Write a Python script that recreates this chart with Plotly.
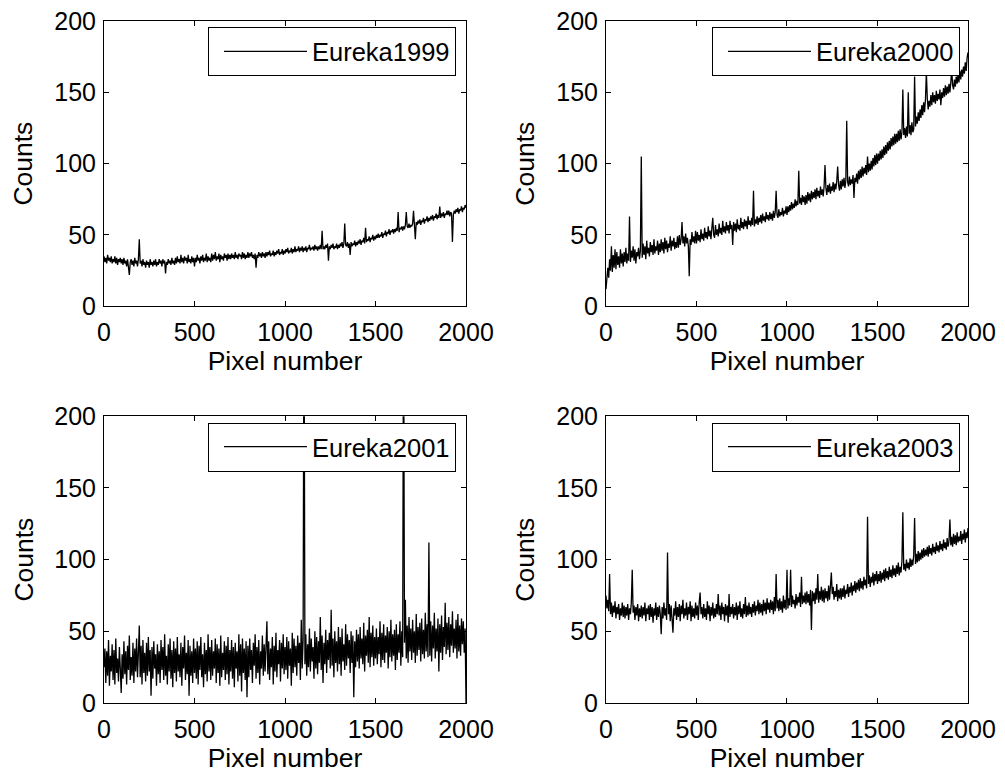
import plotly.graph_objects as go

# Pixel numbers (detector grid, step 5)
pixels = list(range(0, 2001, 5))

series_names = ["Eureka1999", "Eureka2000", "Eureka2001", "Eureka2003"]

# each row = 100 pixel numbers (20 samples)
eureka1999 = [
    35, 31, 34, 30, 36, 32, 34, 31, 35, 30, 33, 31, 35, 30, 34, 29, 33, 31, 34, 30,
    33, 29, 34, 30, 32, 28, 33, 29, 22, 31, 33, 29, 32, 28, 34, 30, 32, 28, 33, 47,
    30, 32, 28, 33, 29, 31, 27, 32, 29, 31, 27, 33, 29, 31, 28, 32, 29, 33, 28, 31,
    29, 33, 30, 32, 28, 33, 30, 32, 23, 31, 29, 33, 30, 32, 29, 34, 30, 32, 29, 34,
    30, 35, 31, 33, 30, 36, 31, 34, 30, 35, 32, 34, 30, 36, 31, 33, 30, 35, 31, 34,
    28, 34, 31, 36, 32, 34, 30, 35, 32, 36, 31, 34, 32, 37, 31, 35, 32, 34, 31, 37,
    32, 36, 33, 38, 32, 35, 33, 37, 31, 36, 33, 35, 32, 37, 34, 36, 32, 37, 33, 36,
    33, 37, 34, 36, 33, 38, 34, 36, 33, 37, 35, 36, 33, 38, 34, 37, 33, 36, 34, 38,
    34, 37, 35, 38, 34, 36, 33, 37, 27, 36, 34, 38, 35, 37, 34, 38, 35, 37, 34, 38,
    35, 38, 36, 39, 35, 37, 36, 39, 35, 38, 36, 39, 37, 40, 36, 38, 37, 40, 36, 39,
    37, 40, 38, 41, 37, 39, 38, 41, 37, 40, 38, 42, 38, 40, 39, 42, 38, 41, 39, 42,
    38, 41, 39, 42, 38, 41, 40, 43, 39, 41, 40, 42, 39, 43, 40, 42, 39, 42, 40, 43,
    40, 53, 40, 42, 40, 43, 41, 44, 32, 42, 40, 43, 41, 44, 40, 42, 41, 44, 40, 43,
    41, 44, 42, 45, 41, 44, 58, 43, 42, 45, 41, 44, 36, 45, 42, 44, 43, 46, 42, 45,
    43, 46, 44, 47, 43, 46, 45, 48, 44, 55, 45, 47, 46, 49, 45, 48, 47, 50, 46, 49,
    47, 50, 48, 51, 48, 50, 49, 52, 48, 51, 50, 53, 49, 52, 51, 54, 50, 53, 52, 54,
    51, 54, 52, 55, 53, 66, 52, 55, 54, 56, 53, 56, 54, 57, 66, 56, 55, 58, 55, 57,
    56, 58, 67, 57, 47, 59, 57, 60, 58, 61, 57, 60, 59, 62, 58, 61, 60, 63, 59, 62,
    60, 63, 61, 64, 60, 63, 62, 65, 61, 64, 62, 70, 62, 65, 63, 66, 62, 65, 64, 67,
    64, 67, 63, 66, 65, 45, 64, 67, 65, 68, 66, 69, 65, 68, 67, 70, 66, 69, 68, 71,
    69,
]

eureka2000 = [
    12, 22, 27, 20, 33, 25, 42, 24, 36, 27, 40, 26, 38, 29, 35, 27, 40, 30, 37, 28,
    38, 31, 41, 30, 37, 32, 63, 31, 39, 34, 42, 32, 40, 30, 38, 35, 41, 33, 39, 105,
    34, 44, 36, 42, 33, 46, 37, 41, 35, 45, 38, 43, 36, 47, 37, 42, 39, 46, 36, 44,
    38, 47, 39, 45, 37, 48, 40, 46, 38, 44, 41, 49, 39, 46, 42, 48, 40, 45, 41, 49,
    41, 50, 43, 47, 59, 44, 49, 42, 51, 44, 48, 42, 21, 47, 43, 52, 45, 49, 44, 53,
    44, 52, 46, 50, 45, 54, 47, 51, 46, 55, 48, 52, 47, 56, 49, 53, 47, 55, 62, 50,
    48, 57, 50, 54, 49, 58, 51, 55, 50, 60, 52, 56, 51, 59, 53, 57, 51, 60, 54, 57,
    43, 59, 53, 58, 52, 61, 54, 57, 53, 62, 55, 59, 54, 61, 56, 60, 54, 63, 57, 60,
    56, 62, 57, 81, 56, 61, 58, 63, 57, 62, 59, 64, 58, 65, 60, 63, 59, 66, 61, 64,
    60, 66, 61, 65, 60, 67, 62, 66, 81, 64, 62, 68, 63, 66, 64, 69, 63, 67, 65, 70,
    64, 70, 66, 71, 67, 73, 68, 72, 69, 75, 70, 74, 71, 95, 72, 76, 71, 78, 73, 77,
    71, 78, 72, 80, 74, 79, 73, 81, 75, 80, 76, 82, 75, 83, 77, 81, 76, 84, 78, 82,
    77, 84, 99, 83, 78, 85, 80, 86, 79, 84, 81, 87, 80, 86, 82, 88, 98, 85, 81, 88,
    82, 89, 84, 90, 83, 88, 130, 87, 84, 91, 85, 89, 86, 92, 76, 90, 87, 93, 86, 95,
    89, 96, 90, 98, 91, 97, 93, 99, 92, 105, 94, 100, 95, 102, 96, 104, 98, 106, 99, 107,
    100, 107, 102, 109, 103, 110, 104, 112, 106, 113, 107, 115, 109, 116, 110, 118, 112, 119, 113, 121,
    114, 121, 115, 123, 116, 124, 117, 122, 152, 120, 125, 118, 126, 119, 150, 121, 127, 120, 129, 122,
    124, 161, 126, 133, 128, 136, 130, 138, 132, 141, 134, 143, 136, 145, 164, 146, 138, 144, 140, 148,
    141, 150, 143, 148, 142, 151, 144, 149, 145, 152, 141, 150, 146, 153, 147, 155, 148, 154, 149, 156,
    150, 157, 166, 155, 152, 159, 154, 161, 156, 163, 157, 165, 159, 166, 161, 168, 163, 171, 165, 174,
    178,
]

eureka2001 = [
    25, 38, 14, 36, 19, 44, 12, 33, 22, 41, 16, 37, 13, 45, 21, 31, 15, 39, 24, 7,
    34, 17, 43, 20, 36, 13, 40, 23, 47, 16, 32, 19, 42, 14, 38, 22, 45, 18, 35, 54,
    18, 40, 13, 44, 21, 35, 15, 42, 19, 46, 22, 37, 5, 39, 17, 43, 24, 34, 12, 41,
    20, 36, 14, 44, 23, 39, 16, 48, 19, 33, 13, 41, 22, 45, 17, 37, 11, 43, 21, 38,
    15, 46, 22, 34, 18, 42, 12, 39, 24, 47, 16, 35, 20, 44, 5, 40, 19, 36, 14, 45,
    21, 38, 17, 43, 13, 40, 23, 46, 18, 34, 11, 42, 20, 37, 15, 48, 22, 39, 16, 44,
    19, 36, 24, 45, 14, 41, 21, 38, 12, 47, 18, 35, 23, 43, 16, 40, 20, 46, 13, 37,
    22, 44, 17, 39, 11, 42, 24, 36, 15, 48, 19, 41, 8, 45, 21, 38, 16, 43, 4, 40,
    18, 45, 23, 37, 14, 42, 26, 48, 17, 39, 21, 44, 13, 36, 24, 47, 19, 41, 22, 50,
    57, 20, 43, 16, 38, 25, 46, 13, 40, 22, 49, 18, 37, 27, 44, 15, 42, 24, 48, 20,
    39, 23, 46, 17, 43, 26, 38, 12, 49, 21, 45, 25, 40, 19, 47, 28, 42, 16, 58, 24,
    44, 300, 27, 48, 19, 41, 25, 52, 22, 45, 29, 39, 17, 50, 24, 46, 20, 43, 28, 60,
    23, 47, 14, 42, 27, 51, 21, 44, 30, 49, 24, 65, 26, 45, 18, 50, 28, 43, 22, 53,
    27, 46, 19, 52, 29, 41, 23, 55, 26, 48, 31, 44, 21, 50, 28, 47, 4, 43, 25, 51,
    29, 48, 24, 53, 31, 45, 27, 56, 22, 47, 33, 51, 28, 60, 25, 49, 32, 54, 26, 46,
    31, 52, 27, 46, 34, 57, 25, 49, 30, 55, 28, 47, 35, 53, 24, 50, 32, 58, 29, 48,
    33, 51, 23, 55, 30, 48, 35, 57, 26, 50, 32, 300, 42, 72, 31, 54, 28, 60, 36, 52,
    30, 58, 35, 50, 28, 62, 33, 53, 37, 56, 29, 59, 34, 51, 31, 63, 36, 55, 32, 112,
    33, 57, 29, 54, 38, 63, 31, 52, 36, 59, 22, 55, 35, 61, 30, 53, 39, 70, 34, 56,
    37, 60, 32, 55, 40, 64, 35, 52, 38, 58, 31, 62, 36, 54, 33, 59, 41, 57, 35, 52,
    0,
]

eureka2003 = [
    75, 66, 72, 64, 90, 62, 70, 60, 68, 63, 71, 59, 67, 62, 69, 58, 66, 61, 70, 60,
    68, 59, 67, 61, 69, 58, 66, 62, 70, 93, 63, 68, 58, 67, 61, 69, 57, 66, 60, 68,
    59, 67, 61, 70, 57, 66, 62, 68, 58, 69, 60, 67, 56, 66, 61, 70, 58, 67, 60, 68,
    62, 48, 67, 59, 70, 61, 66, 58, 105, 62, 69, 57, 68, 60, 49, 66, 61, 71, 58, 67,
    60, 69, 57, 68, 62, 72, 59, 66, 61, 70, 58, 67, 62, 71, 57, 68, 60, 66, 59, 70,
    61, 68, 58, 70, 77, 62, 67, 59, 69, 60, 66, 58, 71, 62, 68, 57, 67, 61, 70, 59,
    66, 60, 69, 62, 76, 61, 68, 58, 70, 62, 67, 57, 69, 61, 68, 56, 76, 60, 67, 62,
    69, 59, 67, 61, 70, 58, 68, 62, 71, 60, 66, 59, 69, 62, 74, 60, 68, 61, 70, 62,
    67, 60, 69, 63, 71, 61, 68, 64, 72, 62, 70, 63, 69, 61, 72, 64, 70, 62, 73, 65,
    70, 63, 72, 65, 71, 62, 74, 64, 90, 66, 72, 64, 73, 65, 71, 63, 75, 66, 72, 65,
    93, 66, 73, 68, 93, 67, 75, 69, 72, 66, 76, 68, 74, 70, 77, 67, 88, 69, 75, 70,
    77, 69, 78, 70, 76, 68, 79, 51, 78, 71, 77, 69, 80, 72, 90, 70, 78, 72, 81, 71,
    79, 70, 80, 73, 78, 71, 82, 72, 79, 91, 76, 81, 72, 78, 74, 83, 71, 79, 73, 80,
    72, 80, 74, 82, 73, 79, 76, 83, 74, 81, 77, 84, 75, 82, 78, 85, 77, 84, 79, 86,
    78, 87, 80, 85, 79, 88, 82, 86, 80, 130, 83, 89, 81, 88, 84, 91, 82, 90, 85, 92,
    83, 90, 85, 92, 84, 91, 86, 93, 85, 94, 87, 92, 86, 95, 88, 93, 87, 96, 89, 94,
    88, 96, 90, 98, 89, 95, 91, 99, 133, 93, 97, 92, 100, 94, 98, 93, 101, 95, 100, 96,
    103, 129, 97, 104, 98, 106, 99, 105, 100, 107, 101, 108, 102, 107, 103, 109, 102, 110, 104, 108,
    103, 111, 105, 109, 104, 112, 106, 110, 105, 113, 107, 111, 106, 114, 108, 112, 107, 115, 109, 113,
    128, 110, 116, 109, 118, 111, 117, 110, 119, 112, 116, 113, 120, 111, 118, 114, 121, 112, 119, 115,
    122,
]

all_series = [eureka1999, eureka2000, eureka2001, eureka2003]
for s in all_series:
    assert len(s) == len(pixels), len(s)

x_ticks = [0, 500, 1000, 1500, 2000]
y_ticks = [0, 50, 100, 150, 200]
x_title = "Pixel number"
y_title = "Counts"

FONT = "Liberation Sans, Arial, Helvetica, sans-serif"

fig = go.Figure()

panels = [("x", "y", "legend"), ("x2", "y2", "legend2"),
          ("x3", "y3", "legend3"), ("x4", "y4", "legend4")]

for name, vals, (xa, ya, lg) in zip(series_names, all_series, panels):
    fig.add_trace(go.Scatter(
        x=pixels, y=vals, mode="lines", name=name,
        line=dict(color="black", width=1.3),
        xaxis=xa, yaxis=ya, legend=lg, showlegend=True,
    ))

x_domains = [[0.0, 0.419], [0.581, 1.0], [0.0, 0.419], [0.581, 1.0]]
y_domains = [[0.5817, 1.0], [0.5817, 1.0], [0.0, 0.4204], [0.0, 0.4204]]

axis_common = dict(
    showline=True, linecolor="black", linewidth=1, mirror="ticks",
    ticks="inside", ticklen=5, tickcolor="black", tickwidth=1,
    showgrid=False, zeroline=False, automargin=False,
    ticklabeloverflow="allow",
    tickfont=dict(family=FONT, size=25, color="black"),
)

# the page body adds an 8px offset, so the figure is 8px smaller each way
layout = dict(
    width=997, height=766,
    paper_bgcolor="white", plot_bgcolor="white",
    margin=dict(l=96, r=37, t=13, b=71),
    font=dict(family=FONT, size=25, color="black"),
)

for i in range(4):
    sx = "" if i == 0 else str(i + 1)
    layout["xaxis" + sx] = dict(
        axis_common, domain=x_domains[i], range=[0, 2000],
        tickvals=x_ticks, anchor="y" + sx, ticklabelstandoff=4,
        title=dict(text=x_title, font=dict(family=FONT, size=26.5, color="black"), standoff=6),
    )
    layout["yaxis" + sx] = dict(
        axis_common, domain=y_domains[i], range=[0, 200],
        tickvals=y_ticks, anchor="x" + sx, ticklabelstandoff=2,
        title=dict(text=y_title, font=dict(family=FONT, size=26.5, color="black"), standoff=13),
    )

legend_pos = [(0.4074, 0.9908), (0.9907, 0.9908), (0.4074, 0.4111), (0.9907, 0.4111)]
for i, (lx, ly) in enumerate(legend_pos):
    key = "legend" if i == 0 else "legend" + str(i + 1)
    layout[key] = dict(
        x=lx, y=ly, xanchor="right", yanchor="top",
        xref="paper", yref="paper",
        bgcolor="white", bordercolor="black", borderwidth=1,
        font=dict(family=FONT, size=25.5, color="black"),
        itemwidth=83, indentation=10,
    )

fig.update_layout(**layout)
fig.write_html("out.html")
